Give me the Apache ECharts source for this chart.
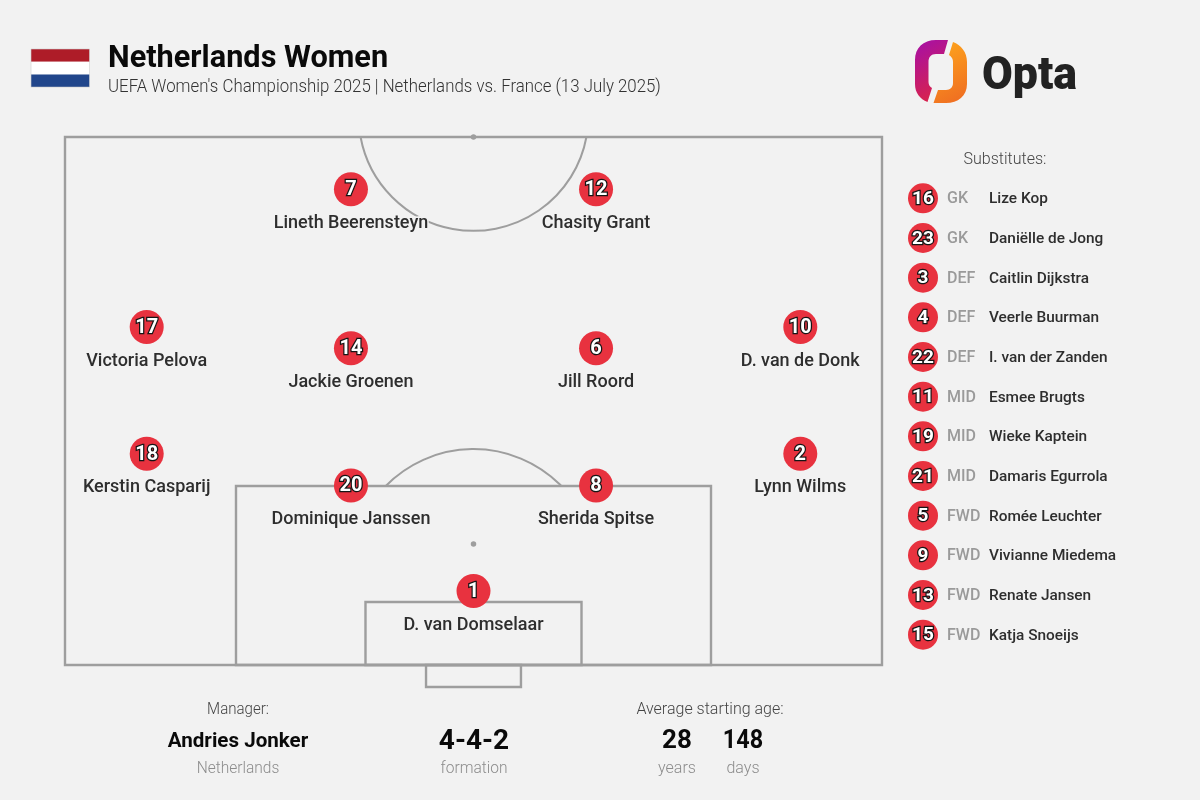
<!DOCTYPE html>
<html><head><meta charset="utf-8">
<style>html,body{margin:0;padding:0;background:#f2f2f2}#c{width:1200px;height:800px}</style>
<script src="https://cdn.jsdelivr.net/npm/echarts@6/dist/echarts.min.js"></script>
</head><body><div id="c"></div>
<script>
// Data
const teamTitle = "Netherlands Women";
const subtitle = "UEFA Women's Championship 2025 | Netherlands vs. France (13 July 2025)";
const playerNumbers = [7,12,17,14,6,10,18,20,8,2,1];
const playerNames = ["Lineth Beerensteyn","Chasity Grant","Victoria Pelova","Jackie Groenen","Jill Roord","D. van de Donk","Kerstin Casparij","Dominique Janssen","Sherida Spitse","Lynn Wilms","D. van Domselaar"];
const playerX = [35,65,10,35,65,90,10,35,65,90,50];
const playerY = [90.1,90.1,64,60,60,64,40,34,34,40,14];
const subNumbers = [16,23,3,4,22,11,19,21,5,9,13,15];
const subPositions = ["GK","GK","DEF","DEF","DEF","MID","MID","MID","FWD","FWD","FWD","FWD"];
const subNames = ["Lize Kop","Daniëlle de Jong","Caitlin Dijkstra","Veerle Buurman","I. van der Zanden","Esmee Brugts","Wieke Kaptein","Damaris Egurrola","Romée Leuchter","Vivianne Miedema","Renate Jansen","Katja Snoeijs"];
const subColumns = [0,24,66];
const pitchRects = [[0,0,100,100],[20.93,0,79.07,33.9],[36.78,0,63.22,11.93],[44.19,-4.17,55.81,0]];
const pitchArcs = [[50,103.98,14.06,10.4,169.6],[50,17.6,15.05,224.3,315.7]];
const pitchSpots = [[50,22.9],[50,100]];
const managerName = "Andries Jonker", managerTeam = "Netherlands", formation = "4-4-2", ageYears = "28", ageDays = "148";

const F = "Roboto", BG = "#f2f2f2", LINE = "#9e9e9e", RED = "#e8323f";
const txt = (text,x,y,size,weight,fill,align,sx) => ({type:'text',silent:true,x,y:y+1.5,scaleX:sx||1,style:{text,fontFamily:F,fontSize:size,fontWeight:weight,fill,textAlign:align||'center',textVerticalAlign:'middle'}});
const numLabel = (size) => ({show:true,position:'inside',offset:[0,1],color:'#fff',fontFamily:F,fontWeight:'bold',fontSize:size,textBorderColor:'#151515',textBorderWidth:2.5,opacity:1});
const logoPieces = [
  {shape:{pathData:'M948,40 L936,40 C923,40 915,48 915,60 L915,84 C915,93 920,99 927.5,102 L932,88 C930,87 928.5,85 928.5,82 L928.5,62 C928.5,57 931,54 936,54 L944,54 Z',x:915,y:40,width:33,height:62,layout:'cover'},
   style:{fill:new echarts.graphic.LinearGradient(0,0,1,1,[{offset:0,color:'#a50fa8'},{offset:1,color:'#e0263f'}])}},
  {shape:{pathData:'M953,42 C961,45 967,52 967,62 L967,84 C967,96 958,103 946,103 L933.5,103 L938,90 L946,90 C950.5,90 953,87 953,83 L953,62 C953,59 952,57 949,55 Z',x:933.5,y:42,width:33.5,height:61,layout:'cover'},
   style:{fill:new echarts.graphic.LinearGradient(0,0,1,1,[{offset:0,color:'#ffa81c'},{offset:1,color:'#ee6a22'}])}}
];

const chart = echarts.init(document.getElementById('c'),null,{renderer:'canvas'});
chart.setOption({
  animation:false,
  backgroundColor:BG,
  grid:[{left:65,top:137,width:817,height:528},{left:923,top:178.5,width:100,height:476}],
  xAxis:[{type:'value',min:0,max:100,show:false,gridIndex:0},{type:'value',min:0,max:100,show:false,gridIndex:1}],
  yAxis:[{type:'value',min:0,max:100,show:false,gridIndex:0},{type:'category',inverse:true,show:false,gridIndex:1,data:subNames}],
  tooltip:{show:false},
  graphic:{elements:[
    {type:'rect',silent:true,shape:{x:31,y:49,width:58.5,height:12.7},style:{fill:'#ae1c28'}},
    {type:'rect',silent:true,shape:{x:31,y:61.7,width:58.5,height:12.7},style:{fill:'#ffffff'}},
    {type:'rect',silent:true,shape:{x:31,y:74.4,width:58.5,height:12.7},style:{fill:'#21468b'}},
    {type:'rect',silent:true,shape:{x:31,y:49,width:58.5,height:38.1},style:{fill:'none',stroke:'#cfcfcf',lineWidth:0.6}},
    txt(teamTitle,108,58,31,'bold','#0a0a0a','left',0.99),
    txt(subtitle,108,86,18,300,'#333333','left',0.935),
    txt("Opta",982,75.5,47,900,'#222222','left',0.95),
    txt("Substitutes:",1005,158,16,300,'#444444'),
    txt("Manager:",238,708,16,300,'#444444','center',0.94),
    txt(managerName,238,740,21,'bold','#0a0a0a','center',0.98),
    txt(managerTeam,238,767,16,300,'#8c8c8c','center',0.97),
    txt(formation,474,740,28,'bold','#0a0a0a'),
    txt("formation",474,767,16,300,'#8c8c8c','center',0.97),
    txt("Average starting age:",710,708,16,300,'#444444'),
    txt(ageYears,677,740,26,'bold','#0a0a0a'),
    txt(ageDays,743,740,26,'bold','#0a0a0a','center',0.9),
    txt("years",677,767,16,300,'#8c8c8c'),
    txt("days",743,767,16,300,'#8c8c8c')
  ]},
  series:[
    {type:'custom',silent:true,coordinateSystem:'none',z:5,data:[0,1],
     renderItem:(p)=>Object.assign({type:'path'},logoPieces[p.dataIndex])},
    {type:'custom',silent:true,z:1,clip:false,xAxisIndex:0,yAxisIndex:0,encode:{x:[0,2],y:[1,3]},data:pitchRects,
     renderItem:(p,api)=>{const a=api.coord([api.value(0),api.value(1)]),b=api.coord([api.value(2),api.value(3)]);
       return {type:'rect',shape:{x:Math.min(a[0],b[0]),y:Math.min(a[1],b[1]),width:Math.abs(a[0]-b[0]),height:Math.abs(a[1]-b[1])},style:{fill:'none',stroke:LINE,lineWidth:2.4}};}},
    {type:'custom',silent:true,z:1,clip:false,xAxisIndex:0,yAxisIndex:0,encode:{x:0,y:1},data:pitchArcs,
     renderItem:(p,api)=>{const c=api.coord([api.value(0),api.value(1)]),r=api.size([api.value(2),0])[0];
       return {type:'arc',shape:{cx:c[0],cy:c[1],r,startAngle:api.value(3)*Math.PI/180,endAngle:api.value(4)*Math.PI/180,clockwise:true},style:{fill:'none',stroke:LINE,lineWidth:2}};}},
    {type:'scatter',silent:true,z:2,clip:false,xAxisIndex:0,yAxisIndex:0,symbolSize:5.5,itemStyle:{color:LINE,opacity:1},data:pitchSpots},
    {type:'scatter',silent:true,z:3,clip:false,xAxisIndex:0,yAxisIndex:0,symbolSize:0,itemStyle:{opacity:1},
     data:playerX.map((x,i)=>[x,playerY[i]]),
     label:{show:true,position:'inside',offset:[0,34],formatter:p=>playerNames[p.dataIndex],color:'#2e2e2e',fontFamily:F,fontWeight:500,fontSize:18,textBorderColor:BG,textBorderWidth:3}},
    {type:'scatter',silent:true,z:4,clip:false,xAxisIndex:0,yAxisIndex:0,symbolSize:34,itemStyle:{color:RED,opacity:1},
     data:playerX.map((x,i)=>[x,playerY[i]]),
     label:Object.assign(numLabel(20),{formatter:p=>String(playerNumbers[p.dataIndex])})},
    {type:'scatter',silent:true,z:4,clip:false,xAxisIndex:1,yAxisIndex:1,symbolSize:30,itemStyle:{color:RED,opacity:1},
     data:subNames.map((n,i)=>[subColumns[0],i]),
     label:Object.assign(numLabel(19),{formatter:p=>String(subNumbers[p.dataIndex])})},
    {type:'scatter',silent:true,z:4,clip:false,xAxisIndex:1,yAxisIndex:1,symbolSize:0,itemStyle:{opacity:1},
     data:subNames.map((n,i)=>[subColumns[1],i]),
     label:{show:true,position:'right',distance:0,offset:[0,1],formatter:p=>subPositions[p.dataIndex],color:'#9a9a9a',fontFamily:F,fontWeight:500,fontSize:16}},
    {type:'scatter',silent:true,z:4,clip:false,xAxisIndex:1,yAxisIndex:1,symbolSize:0,itemStyle:{opacity:1},
     data:subNames.map((n,i)=>[subColumns[2],i]),
     label:{show:true,position:'right',distance:0,offset:[0,1],formatter:p=>subNames[p.dataIndex],color:'#2e2e2e',fontFamily:F,fontWeight:500,fontSize:15.4}}
  ]
});
</script></body></html>
